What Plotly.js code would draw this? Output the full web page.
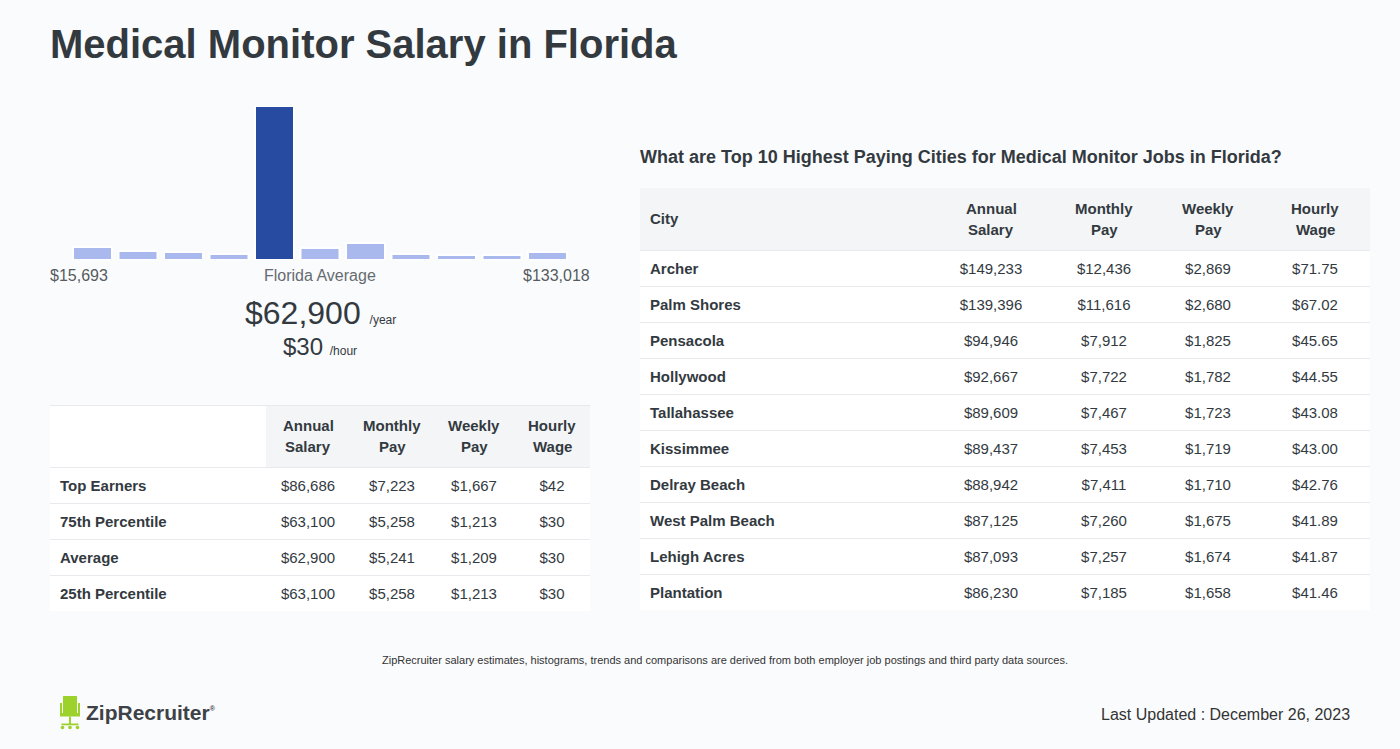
<!DOCTYPE html>
<html>
<head>
<meta charset="utf-8">
<script src="https://cdn.plot.ly/plotly-3.0.1.min.js"></script>
<style>
html,body{margin:0;padding:0;background:#fafbfd;}
#chart{width:1400px;height:749px;}
</style>
</head>
<body>
<div id="chart"></div>
<script>
// ---------- data ----------
const pageTitle = 'Medical Monitor Salary in Florida';
const histBins = [0,1,2,3,4,5,6,7,8,9,10];
const histCounts = [13, 9, 8, 6, 154, 12, 17, 6, 5, 5, 8];
const histHighlight = 4;
const histLabels = ['$15,693', 'Florida Average', '$133,018'];
const avgYear = '$62,900';
const avgHour = '$30';

const leftHeader = ['', 'Annual<br>Salary', 'Monthly<br>Pay', 'Weekly<br>Pay', 'Hourly<br>Wage'];
const leftRows = ['Top Earners', '75th Percentile', 'Average', '25th Percentile'];
const leftAnnual = ['$86,686', '$63,100', '$62,900', '$63,100'];
const leftMonthly = ['$7,223', '$5,258', '$5,241', '$5,258'];
const leftWeekly = ['$1,667', '$1,213', '$1,209', '$1,213'];
const leftHourly = ['$42', '$30', '$30', '$30'];

const citiesTitle = 'What are Top 10 Highest Paying Cities for Medical Monitor Jobs in Florida?';
const rightHeader = ['City', 'Annual<br>Salary', 'Monthly<br>Pay', 'Weekly<br>Pay', 'Hourly<br>Wage'];
const cities = ['Archer', 'Palm Shores', 'Pensacola', 'Hollywood', 'Tallahassee', 'Kissimmee', 'Delray Beach', 'West Palm Beach', 'Lehigh Acres', 'Plantation'];
const cityAnnual = ['$149,233', '$139,396', '$94,946', '$92,667', '$89,609', '$89,437', '$88,942', '$87,125', '$87,093', '$86,230'];
const cityMonthly = ['$12,436', '$11,616', '$7,912', '$7,722', '$7,467', '$7,453', '$7,411', '$7,260', '$7,257', '$7,185'];
const cityWeekly = ['$2,869', '$2,680', '$1,825', '$1,782', '$1,723', '$1,719', '$1,710', '$1,675', '$1,674', '$1,658'];
const cityHourly = ['$71.75', '$67.02', '$45.65', '$44.55', '$43.08', '$43.00', '$42.76', '$41.89', '$41.87', '$41.46'];

const footnote = 'ZipRecruiter salary estimates, histograms, trends and comparisons are derived from both employer job postings and third party data sources.';
const lastUpdated = 'Last Updated : December 26, 2023';
const brand = 'ZipRecruiter';

// ---------- layout helpers ----------
const W = 1400, H = 749;
const X = px => px / W;
const Y = py => 1 - py / H;
const FONT = 'Liberation Sans, Arial, sans-serif';
const DARK = '#333a3f';
const GRAYFILL = '#f4f5f7';
const SEP = '#e7e9ec';
const PAD = 2; // annotation box padding

const shapes = [];
function rect(x0, y0, x1, y1, color, layer) {
  shapes.push({type: 'rect', xref: 'paper', yref: 'paper', x0: X(x0), x1: X(x1), y0: Y(y1), y1: Y(y0),
    fillcolor: color, line: {width: 0}, layer: layer || 'below'});
}
function hline(x0, x1, y, color) {
  shapes.push({type: 'line', xref: 'paper', yref: 'paper', x0: X(x0), x1: X(x1), y0: Y(y), y1: Y(y),
    line: {color: color, width: 1}, layer: 'below'});
}
function circ(cx, cy, r, color) {
  shapes.push({type: 'circle', xref: 'paper', yref: 'paper', x0: X(cx - r), x1: X(cx + r), y0: Y(cy + r), y1: Y(cy - r),
    fillcolor: color, line: {width: 0}, layer: 'above'});
}

const ann = [];
function text(t, x, y, size, opts) {
  const o = Object.assign({xanchor: 'left', yanchor: 'middle'}, opts || {});
  let xx = x;
  if (o.xanchor === 'left') xx = x - PAD;
  if (o.xanchor === 'right') xx = x + PAD;
  ann.push(Object.assign({text: t, xref: 'paper', yref: 'paper', x: X(xx), y: Y(y), showarrow: false,
    font: {family: FONT, size: size, color: DARK}}, o, {x: X(xx)}));
}

// table geometry
const LT = {x0: 50, x1: 590, top: 405, head: 62, row: 36, widths: [216, 84, 84, 80, 76]};
const RT = {x0: 640, x1: 1370, top: 188, head: 62, row: 36, widths: [290, 122, 104, 104, 110]};

function tableDecor(g, nrows, firstHeadWhite, topLine) {
  const wFirst = g.x0 + g.widths[0];
  if (firstHeadWhite) {
    rect(g.x0, g.top, wFirst, g.top + g.head, '#ffffff');
    rect(wFirst, g.top, g.x1, g.top + g.head, GRAYFILL);
  } else {
    rect(g.x0, g.top, g.x1, g.top + g.head, GRAYFILL);
  }
  rect(g.x0, g.top + g.head, g.x1, g.top + g.head + g.row * nrows, '#ffffff');
  if (topLine) hline(g.x0, g.x1, g.top + 0.5, SEP);
  for (let i = 0; i < nrows; i++) hline(g.x0, g.x1, g.top + g.head + g.row * i + 0.5, SEP);
}
function headerLabels(g, header) {
  let cx = g.x0;
  header.forEach((h, i) => {
    const w = g.widths[i];
    if (h) {
      const lines = h.split('<br>');
      if (i === 0) {
        text('<b>' + lines.join(' ') + '</b>', g.x0 + 10, g.top + g.head / 2, 15);
      } else if (lines.length === 1) {
        text('<b>' + lines[0] + '</b>', cx + w / 2, g.top + g.head / 2, 15, {xanchor: 'center'});
      } else {
        lines.forEach((ln, k) => {
          text('<b>' + ln + '</b>', cx + w / 2, g.top + 20 + 21 * k, 15, {xanchor: 'center'});
        });
      }
    }
    cx += w;
  });
}
tableDecor(LT, leftRows.length, true, true);
tableDecor(RT, cities.length, false, false);
headerLabels(LT, leftHeader);
headerLabels(RT, rightHeader);

// logo chair (ZipRecruiter)
const GREEN = '#9dd12b';
rect(63, 696, 77, 713, GREEN, 'above');
rect(60, 703, 62, 716, GREEN, 'above');
rect(78, 703, 80, 716, GREEN, 'above');
rect(60, 713, 80, 716.5, GREEN, 'above');
rect(69, 716.5, 71, 725, GREEN, 'above');
rect(61.5, 723.5, 78.5, 725.3, GREEN, 'above');
circ(62.5, 727.5, 1.8, GREEN);
circ(77.5, 727.5, 1.8, GREEN);
circ(70, 727.5, 1.8, GREEN);

// ---------- traces ----------
const transparent = 'rgba(0,0,0,0)';
const histTrace = {
  type: 'bar', x: histBins, y: histCounts, width: 0.857,
  marker: {color: histBins.map(i => i === histHighlight ? '#264ba0' : '#aab9ed'), line: {color: '#ffffff', width: 2}},
  hoverinfo: 'skip', xaxis: 'x', yaxis: 'y'
};

const CELLPAD = 8, TEXT_SHIFT = 2;
function tableTrace(g, columns) {
  const nrows = columns[0].length;
  const bottom = g.top + g.head + g.row * nrows;
  const widths = g.widths.slice();
  widths[0] -= (10 - CELLPAD);
  const x0 = g.x0 + (10 - CELLPAD);
  return {
    type: 'table',
    domain: {x: [X(x0), X(g.x1)], y: [Y(bottom + TEXT_SHIFT), Y(g.top + TEXT_SHIFT)]},
    columnwidth: widths,
    header: {
      values: columns.map(() => ''),
      height: g.head,
      fill: {color: transparent}, line: {width: 0, color: transparent},
      font: {family: FONT, size: 15, color: DARK}
    },
    cells: {
      values: columns.map((c, i) => i === 0 ? c.map(v => '<b>' + v + '</b>') : c.map(v => '<span>' + v + '</span>')),
      align: ['left', 'center', 'center', 'center', 'center'],
      height: g.row,
      fill: {color: transparent}, line: {width: 0, color: transparent},
      font: {family: FONT, size: 15, color: DARK}
    }
  };
}

const leftTable = tableTrace(LT, [leftRows, leftAnnual, leftMonthly, leftWeekly, leftHourly]);
const rightTable = tableTrace(RT, [cities, cityAnnual, cityMonthly, cityWeekly, cityHourly]);

// ---------- annotations ----------
text(pageTitle, 50, 44, 40, {font: {family: FONT, size: 40, color: DARK, weight: 'bold'}});
text(histLabels[0], 50, 275.5, 16, {font: {family: FONT, size: 16, color: '#555b60'}});
text(histLabels[1], 320, 275.5, 16, {xanchor: 'center', font: {family: FONT, size: 16, color: '#666b70'}});
text(histLabels[2], 590, 275.5, 16, {xanchor: 'right', font: {family: FONT, size: 16, color: '#555b60'}});
text(avgYear + ' <span style="font-size:12px">/year</span>', 320, 313, 32, {xanchor: 'center'});
text(avgHour + ' <span style="font-size:12px">/hour</span>', 320, 346, 24, {xanchor: 'center'});
text(citiesTitle, 640, 157, 18, {font: {family: FONT, size: 18, color: DARK, weight: 'bold'}});
text(footnote, 725, 660, 11, {xanchor: 'center', font: {family: FONT, size: 11, color: '#333'}});
text(lastUpdated, 1350, 714, 16, {xanchor: 'right', font: {family: FONT, size: 16, color: '#333'}});
text(brand + '<sup><span style="font-size:7px">®</span></sup>', 86, 712, 21, {font: {family: FONT, size: 21, color: '#3d4247', weight: 'bold'}});

// ---------- layout ----------
const slot = 45.5;
const histCenter = 320;
const histLeft = histCenter - slot * histBins.length / 2;
const histRight = histCenter + slot * histBins.length / 2;
const histTop = 106, histBase = 260;

const layout = {
  width: W, height: H,
  margin: {l: 0, r: 0, t: 0, b: 0},
  paper_bgcolor: '#fafbfd', plot_bgcolor: 'rgba(0,0,0,0)',
  showlegend: false,
  bargap: 0,
  xaxis: {domain: [X(histLeft), X(histRight)], range: [-0.5, histBins.length - 0.5], visible: false, fixedrange: true},
  yaxis: {domain: [Y(histBase), Y(histTop)], range: [0, Math.max(...histCounts)], visible: false, fixedrange: true},
  shapes: shapes,
  annotations: ann,
  font: {family: FONT}
};

Plotly.newPlot('chart', [histTrace, leftTable, rightTable], layout, {displayModeBar: false, staticPlot: true});
</script>
</body>
</html>
